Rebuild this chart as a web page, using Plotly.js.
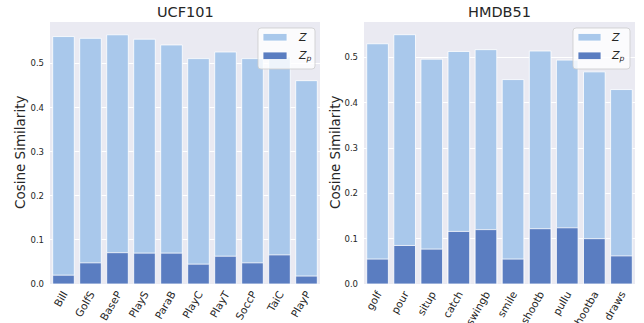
<!DOCTYPE html>
<html>
<head>
<meta charset="utf-8">
<script src="https://cdn.plot.ly/plotly-3.0.1.min.js"></script>
<style>html,body{margin:0;padding:0;background:#fff;}#chart{width:644px;height:323px;}</style>
</head>
<body>
<div id="chart"></div>
<script>
// ---- data ----
var ucfCategories = ["Bill", "GolfS", "BaseP", "PlayS", "ParaB", "PlayC", "PlayT", "SoccP", "TaiC", "PlayP"];
var ucfZ  = [0.561, 0.557, 0.565, 0.555, 0.542, 0.511, 0.526, 0.511, 0.515, 0.461];
var ucfZp = [0.020, 0.048, 0.071, 0.070, 0.070, 0.045, 0.063, 0.048, 0.066, 0.018];

var hmdbCategories = ["golf", "pour", "situp", "catch", "swingb", "smile", "shootb", "pullu", "shootba", "draws"];
var hmdbZ  = [0.530, 0.550, 0.496, 0.513, 0.517, 0.451, 0.514, 0.494, 0.468, 0.429];
var hmdbZp = [0.055, 0.085, 0.077, 0.116, 0.120, 0.055, 0.122, 0.124, 0.100, 0.062];

var yTickVals = [0, 0.1, 0.2, 0.3, 0.4, 0.5];
var titles = ["UCF101", "HMDB51"];
var yTitle = "Cosine Similarity";
var legendNames = ["<i>Z</i>", "<i>Z</i><sub><i>p</i></sub>"];

// ---- style ----
var W = 644, H = 323;
var light = "#a9c8eb", dark = "#5a7dc1", bg = "#eaeaf2", txt = "#262626";
var font = "DejaVu Sans, sans-serif";
function px(x){ return x / W; }
function py(y){ return 1 - y / H; }

function bar(x, y, color, xa, ya, name){
  return {type:"bar", x:x, y:y, name:name, xaxis:xa, yaxis:ya, width:0.8,
    marker:{color:color, line:{color:"#ffffff", width:0.8}}, showlegend:false, hoverinfo:"x+y"};
}

var data = [
  bar(ucfCategories, ucfZ, light, "x", "y", "Z"),
  bar(ucfCategories, ucfZp, dark, "x", "y", "Zp"),
  bar(hmdbCategories, hmdbZ, light, "x2", "y2", "Z"),
  bar(hmdbCategories, hmdbZp, dark, "x2", "y2", "Zp")
];

var yDom = [py(284), py(22)];
function xax(dom){
  return {domain:dom, range:[-0.5, 9.5], showgrid:false, zeroline:false, showline:false,
    tickangle:-60, ticks:"", ticklabelstandoff:1, tickfont:{family:font, size:10.5, color:txt}, fixedrange:true};
}
function yax(anchor, maxv){
  return {domain:yDom, anchor:anchor, range:[0, maxv], tickvals:yTickVals, tickformat:".1f",
    showgrid:true, gridcolor:"#ffffff", gridwidth:1, zeroline:false, showline:false, ticks:"",
    ticklabelstandoff:5, tickfont:{family:font, size:8.5, color:txt}, fixedrange:true};
}

var shapes = [], annotations = [];
function legendBox(x0, x1, y0, y1, patchX0, patchX1, textX){
  var r = 3;
  var a = px(x0), b = px(x1), c = py(y0), d = py(y1);
  var rx = r / W, ry = r / H;
  shapes.push({type:"path", xref:"paper", yref:"paper", layer:"above",
    path:"M" + (a+rx) + "," + c + " L" + (b-rx) + "," + c + " Q" + b + "," + c + " " + b + "," + (c-ry) +
         " L" + b + "," + (d+ry) + " Q" + b + "," + d + " " + (b-rx) + "," + d +
         " L" + (a+rx) + "," + d + " Q" + a + "," + d + " " + a + "," + (d+ry) +
         " L" + a + "," + (c-ry) + " Q" + a + "," + c + " " + (a+rx) + "," + c + " Z",
    fillcolor:"rgba(255,255,255,0.8)", line:{color:"rgba(204,204,204,0.8)", width:1}});
  var rows = [[33.5, 41, 37, light, legendNames[0]], [52, 59.5, 56, dark, legendNames[1]]];
  rows.forEach(function(rw){
    shapes.push({type:"rect", xref:"paper", yref:"paper", layer:"above",
      x0:px(patchX0), x1:px(patchX1), y0:py(rw[1]), y1:py(rw[0]),
      fillcolor:rw[3], line:{color:"#ffffff", width:0.8}});
    annotations.push({xref:"paper", yref:"paper", x:px(textX), y:py(rw[2]), xanchor:"left", yanchor:"middle",
      text:rw[4], showarrow:false, font:{family:font, size:11, color:txt}});
  });
}
legendBox(258, 315, 28, 69, 263, 287, 296);
legendBox(573, 630, 28, 69, 578, 601, 609);

// titles
annotations.push({xref:"paper", yref:"paper", x:px(185), y:py(12), xanchor:"center", yanchor:"middle",
  text:titles[0], showarrow:false, font:{family:font, size:14.5, color:txt}});
annotations.push({xref:"paper", yref:"paper", x:px(499), y:py(12), xanchor:"center", yanchor:"middle",
  text:titles[1], showarrow:false, font:{family:font, size:14.5, color:txt}});
annotations.push({xref:"paper", yref:"paper", x:px(20), y:py(153), xanchor:"center", yanchor:"middle",
  text:yTitle, textangle:-90, showarrow:false, font:{family:font, size:13.5, color:txt}});
annotations.push({xref:"paper", yref:"paper", x:px(335), y:py(153), xanchor:"center", yanchor:"middle",
  text:yTitle, textangle:-90, showarrow:false, font:{family:font, size:13.5, color:txt}});

var layout = {
  width:W, height:H, margin:{l:0, r:0, t:0, b:0},
  paper_bgcolor:"#ffffff", plot_bgcolor:bg,
  barmode:"overlay", showlegend:false,
  font:{family:font, color:txt},
  xaxis:xax([px(50), px(320)]), yaxis:yax("x", 0.594),
  xaxis2:xax([px(364), px(635)]), yaxis2:yax("x2", 0.578),
  shapes:shapes, annotations:annotations
};

Plotly.newPlot("chart", data, layout, {displayModeBar:false, staticPlot:true});
</script>
</body>
</html>
